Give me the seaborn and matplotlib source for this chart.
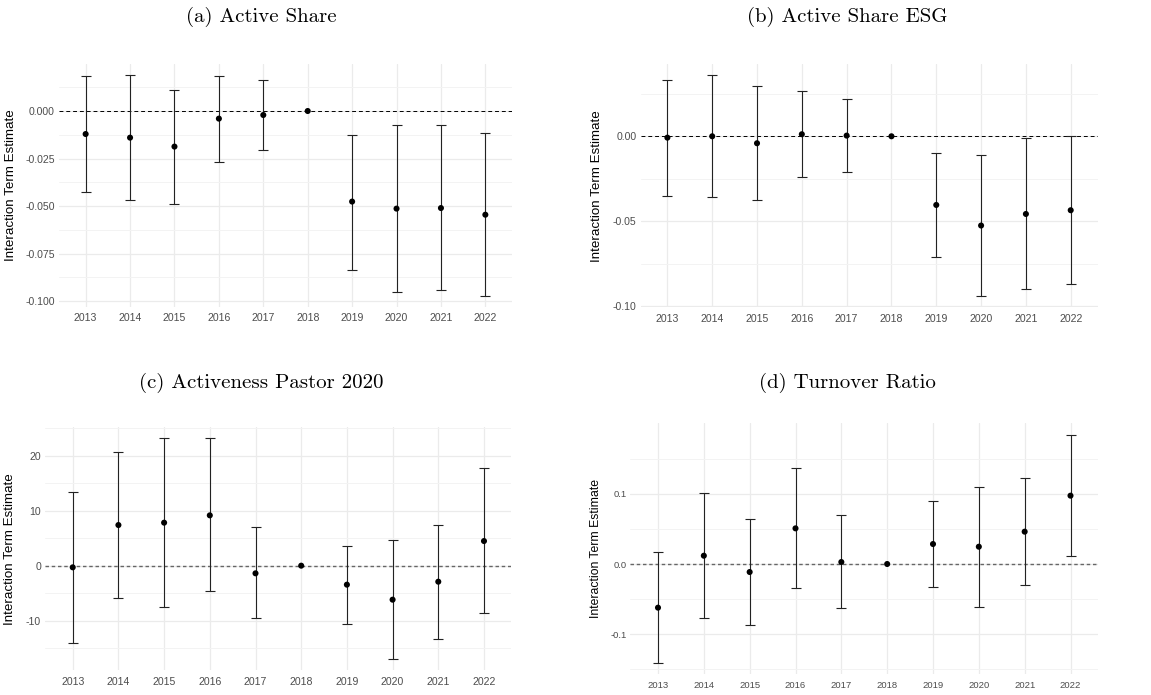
import numpy as np
import pandas as pd
import matplotlib
matplotlib.use("Agg")
import matplotlib.pyplot as plt
import seaborn as sns
from matplotlib.ticker import FixedLocator, FixedFormatter

sns.set_theme(style="white")
plt.rcParams['font.family'] = ['Liberation Sans', 'DejaVu Sans']
plt.rcParams['axes.unicode_minus'] = False

years = ["2013", "2014", "2015", "2016", "2017", "2018", "2019", "2020", "2021", "2022"]

# (a) Active Share
a_est = [-0.0121, -0.0140, -0.0187, -0.0040, -0.0021, 0.0, -0.0476, -0.0513, -0.0510, -0.0545]
a_lo = [-0.0425, -0.0466, -0.0489, -0.0268, -0.0203, np.nan, -0.0834, -0.0953, -0.0940, -0.0972]
a_hi = [0.0186, 0.0189, 0.0110, 0.0186, 0.0163, np.nan, -0.0124, -0.0074, -0.0074, -0.0116]

# (b) Active Share ESG
b_est = [-0.0008, 0.0000, -0.0041, 0.0012, 0.0004, 0.0, -0.0404, -0.0525, -0.0457, -0.0435]
b_lo = [-0.0351, -0.0359, -0.0376, -0.0239, -0.0210, np.nan, -0.0710, -0.0941, -0.0900, -0.0871]
b_hi = [0.0333, 0.0359, 0.0294, 0.0267, 0.0222, np.nan, -0.0098, -0.0112, -0.0012, 0.0000]

# (c) Activeness Pastor 2020
c_est = [-0.30, 7.39, 7.82, 9.15, -1.39, 0.0, -3.45, -6.18, -2.91, 4.48]
c_lo = [-14.0, -5.94, -7.58, -4.61, -9.58, np.nan, -10.6, -17.03, -13.33, -8.67]
c_hi = [13.39, 20.6, 23.15, 23.15, 6.97, np.nan, 3.52, 4.61, 7.39, 17.7]

# (d) Turnover Ratio
d_est = [-0.0621, 0.0118, -0.0114, 0.0507, 0.0028, 0.0, 0.0284, 0.0246, 0.0460, 0.0972]
d_lo = [-0.1408, -0.0773, -0.0863, -0.0346, -0.0630, np.nan, -0.0332, -0.0611, -0.0303, 0.0118]
d_hi = [0.0166, 0.1014, 0.0635, 0.1360, 0.0692, np.nan, 0.0896, 0.1100, 0.1218, 0.1839]

titles = ["(a) Active Share", "(b) Active Share ESG", "(c) Activeness Pastor 2020", "(d) Turnover Ratio"]
ylabel = "Interaction Term Estimate"

a_major = [0.0, -0.025, -0.05, -0.075, -0.1]
a_major_lbl = ["0.000", "-0.025", "-0.050", "-0.075", "-0.100"]
a_minor = [0.0125, -0.0125, -0.0375, -0.0625, -0.0875]
b_major = [0.0, -0.05, -0.1]
b_major_lbl = ["0.00", "-0.05", "-0.10"]
b_minor = [0.025, -0.025, -0.075]
c_major = [20, 10, 0, -10]
c_major_lbl = ["20", "10", "0", "-10"]
c_minor = [25, 15, 5, -5, -15]
d_major = [0.1, 0.0, -0.1]
d_major_lbl = ["0.1", "0.0", "-0.1"]
d_minor = [0.15, 0.05, -0.05, -0.15]

W, H = 1151, 695
fig = plt.figure(figsize=(W / 100, H / 100), dpi=100)
fig.patch.set_facecolor("white")

# pixel boxes: left, right, top, bottom
boxes = [(59, 512, 64, 307), (640.5, 1097.6, 64.2, 307.3),
         (45.3, 511.4, 427.3, 670.4), (630.5, 1098, 423.3, 674.4)]
title_pos = [(261, 17), (847, 17), (261, 383), (847, 383)]
ylab_x = [17, 603, 16, 602]
tick_fs = [7.6, 7.6, 7.6, 6.8]
ylab_fs = [9.6, 9.6, 9.6, 8.8]
zero_style = [("black", 0.7, (4, 3)), ("black", 0.7, (4, 3)),
              ("#666666", 1.0, (2.5, 2)), ("#666666", 1.0, (2.5, 2))]

panels = [
    (a_est, a_lo, a_hi, a_major, a_major_lbl, a_minor),
    (b_est, b_lo, b_hi, b_major, b_major_lbl, b_minor),
    (c_est, c_lo, c_hi, c_major, c_major_lbl, c_minor),
    (d_est, d_lo, d_hi, d_major, d_major_lbl, d_minor),
]

for i, (est, lo, hi, maj, majl, mnr) in enumerate(panels):
    l, r, t, b = boxes[i]
    ax = fig.add_axes([l / W, 1 - b / H, (r - l) / W, (b - t) / H])
    ax.set_facecolor("white")
    df = pd.DataFrame({"year": years, "est": est, "lo": lo, "hi": hi})
    df["pos"] = np.arange(len(years))

    sns.scatterplot(data=df, x="pos", y="est", ax=ax, color="black",
                    s=19, edgecolor="none", zorder=3)

    lw_c, lw_w, lw_d = zero_style[i]
    ax.axhline(0, color=lw_c, lw=lw_w, dashes=lw_d, zorder=1)

    sub = df[df["lo"].notna()]
    ax.errorbar(sub["pos"], sub["est"],
                yerr=[sub["est"] - sub["lo"], sub["hi"] - sub["est"]],
                fmt="none", ecolor="#222222", elinewidth=0.8, capsize=3.6,
                capthick=0.8, zorder=2)

    lo_all = np.nanmin(np.concatenate([df["lo"].values, df["est"].values]))
    hi_all = np.nanmax(np.concatenate([df["hi"].values, df["est"].values]))
    rng = hi_all - lo_all
    ax.set_ylim(lo_all - 0.05 * rng, hi_all + 0.05 * rng)
    ax.set_xlim(-0.6, len(years) - 0.4)
    ax.set_xticks(df["pos"])
    ax.set_xticklabels(years)

    ax.yaxis.set_major_locator(FixedLocator(maj))
    ax.yaxis.set_major_formatter(FixedFormatter(majl))
    ax.yaxis.set_minor_locator(FixedLocator(mnr))
    ax.grid(True, which="major", axis="both", color="#EBEBEB", lw=0.9, zorder=0)
    ax.grid(True, which="minor", axis="y", color="#F3F3F3", lw=0.7, zorder=0)
    ax.set_axisbelow(True)
    for s in ax.spines.values():
        s.set_visible(False)
    ax.tick_params(axis="both", which="both", length=0, labelsize=tick_fs[i],
                   labelcolor="#4D4D4D")
    ax.tick_params(axis="y", pad=3)
    ax.tick_params(axis="x", pad=4.5)
    ax.set_xlabel("")
    ax.set_ylabel(ylabel, fontsize=ylab_fs[i], color="black")
    ax.yaxis.set_label_coords((ylab_x[i] - l) / (r - l), 0.5)

    tx, ty = title_pos[i]
    fig.text(tx / W, 1 - ty / H, titles[i], ha="center", va="center",
             fontsize=15, family=["cmr10", "DejaVu Serif"], color="black")

fig.savefig("out.png", dpi=100, facecolor="white")
